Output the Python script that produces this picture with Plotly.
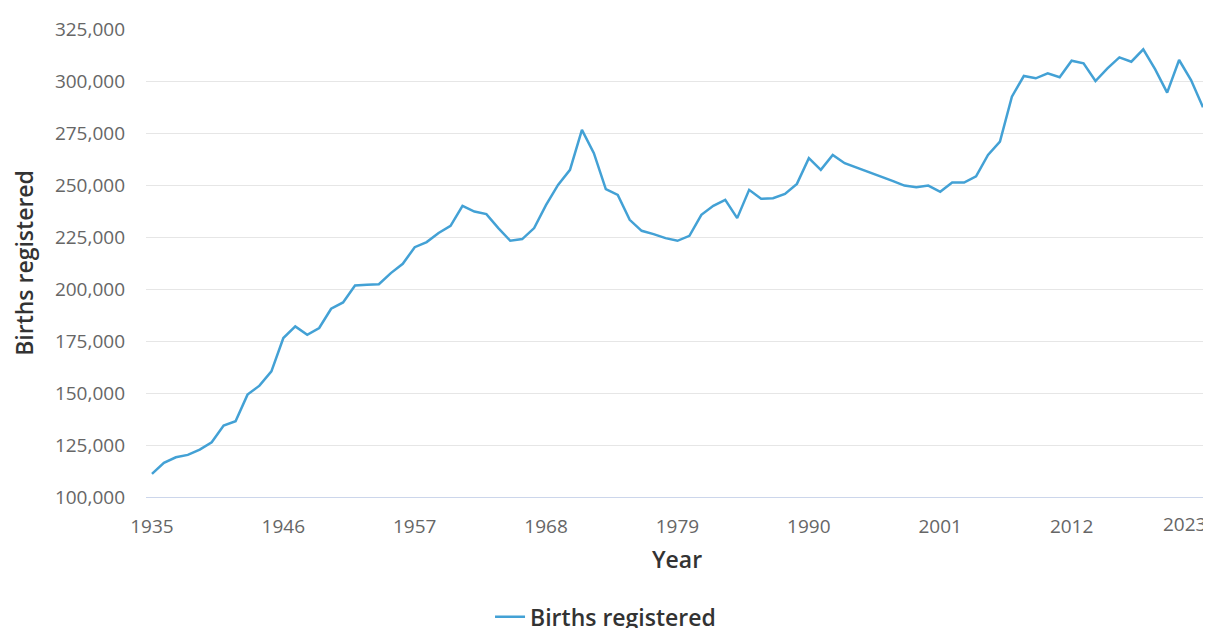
import plotly.graph_objects as go

years = list(range(1935, 2024))
births = [
    111140, 116420, 119110, 120260, 122800, 126300, 134330, 136400, 149220, 153540,
    160400, 176450, 182000, 178000, 181250, 190500, 193550, 201700, 202000, 202300,
    207650, 212100, 220100, 222550, 226900, 230400, 239980, 237250, 236000, 229300,
    223200, 224000, 229300, 240450, 250060, 257260, 276470, 265300, 248000, 245260,
    233250, 227970, 226380, 224460, 223170, 225570, 235650, 239970, 242850, 234070,
    247660, 243340, 243660, 245730, 250540, 262880, 257260, 264470, 260480, 258400,
    256460, 254060, 252000, 249730, 248940, 249730, 246700, 251170, 251170, 254200,
    264470, 270860, 292460, 302400, 301300, 303700, 301780, 309750, 308500, 300000,
    306100, 311380, 309270, 315200, 305620, 294380, 310090, 300480, 287370,
]
x_ticks = [1935, 1946, 1957, 1968, 1979, 1990, 2001, 2012, 2023]
x_tick_text = ["1935", "1946", "1957", "1968", "1979", "1990", "2001", "2012", ""]
y_ticks = [100000, 125000, 150000, 175000, 200000, 225000, 250000, 275000, 300000, 325000]

FONT = "Open Sans"
LINE = "#43a1d5"

fig = go.Figure()
fig.add_trace(go.Scatter(
    x=years, y=births, mode="lines", name="Births registered",
    line=dict(color=LINE, width=2.5),
    hovertemplate="%{x}: %{y:,}<extra></extra>",
))

# page body has an 8px margin, so the figure is 8px smaller than the window
fig.update_layout(
    width=1203, height=620,
    margin=dict(l=138, r=3, t=21, b=131, autoexpand=False),
    paper_bgcolor="white", plot_bgcolor="white",
    font=dict(family=FONT, color="#666666", size=19),
    showlegend=True,
    legend=dict(
        orientation="h", xref="paper", x=0.4327, xanchor="center",
        yref="paper", y=-0.256, yanchor="middle",
        font=dict(family=FONT, size=23, color="#333333", weight=600),
        bgcolor="rgba(0,0,0,0)",
    ),
    xaxis=dict(
        range=[1934.5, 2023.42], automargin=False,
        tickvals=x_ticks, ticktext=x_tick_text, tickangle=0,
        showgrid=False, zeroline=False,
        showline=True, linecolor="#ccd6eb", linewidth=1,
        ticks="", ticklabelstandoff=12,
        tickfont=dict(family=FONT, size=19, color="#666666"),
        title=dict(text="Year", font=dict(family=FONT, size=23, color="#333333", weight=600), standoff=14),
    ),
    yaxis=dict(
        range=[100000, 325000], automargin=False,
        tickvals=y_ticks, tickformat=",",
        showgrid=True, gridcolor="#e6e6e6", gridwidth=1,
        zeroline=False, showline=False,
        ticks="", ticklabelstandoff=20,
        tickfont=dict(family=FONT, size=19, color="#666666"),
        title=dict(text="Births registered", font=dict(family=FONT, size=23, color="#333333", weight=600), standoff=18),
    ),
    annotations=[dict(
        x=2023, xref="x", xanchor="right", xshift=5,
        y=0, yref="paper", yanchor="top", yshift=-12,
        text="2023", showarrow=False,
        font=dict(family=FONT, size=19, color="#666666"),
    )],
)

fig.write_html("out.html")
